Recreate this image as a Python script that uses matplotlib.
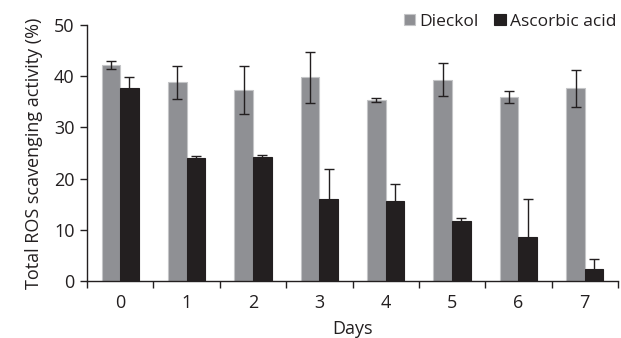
import matplotlib
matplotlib.use("Agg")
import matplotlib.pyplot as plt
import numpy as np

days = ["0", "1", "2", "3", "4", "5", "6", "7"]
dieckol = [42.2, 38.8, 37.3, 39.8, 35.4, 39.3, 35.9, 37.6]
dieckol_err = [0.7, 3.2, 4.6, 5.0, 0.35, 3.2, 1.2, 3.7]
ascorbic = [37.6, 24.0, 24.3, 16.1, 15.7, 11.7, 8.5, 2.4]
ascorbic_err = [2.3, 0.5, 0.4, 5.8, 3.2, 0.6, 7.6, 1.9]

text_color = "#231f20"
plt.rcParams["font.family"] = ["Open Sans", "DejaVu Sans"]
plt.rcParams["font.size"] = 13
plt.rcParams["text.color"] = text_color

fig = plt.figure(figsize=(6.21, 3.38), dpi=100)
ax = fig.add_axes([87 / 621, 1 - 281 / 338, 531 / 621, 256 / 338])

x = np.arange(len(days))
w = 0.28
err_kw = dict(ecolor=text_color, elinewidth=1.0, capsize=3.5, capthick=1.0)
ax.bar(x - w / 2, dieckol, w, yerr=dieckol_err, color="#8f9094",
       edgecolor="#c4c5c7", linewidth=0.8, label="Dieckol", error_kw=err_kw)
ax.bar(x + w / 2, ascorbic, w, yerr=ascorbic_err, color="#231f20",
       edgecolor="#231f20", linewidth=0.8, label="Ascorbic acid", error_kw=err_kw)

ax.set_xlim(-0.5, len(days) - 0.5)
ax.set_ylim(0, 50)
ax.set_yticks(np.arange(0, 51, 10))

# Major ticks mark the boundaries between days; labels sit at the centers
ax.set_xticks(np.arange(-0.5, len(days), 1.0))
ax.set_xticklabels([])
ax.set_xticks(x, minor=True)
ax.set_xticklabels(days, minor=True)
ax.tick_params(axis="x", which="minor", length=0, pad=9, colors=text_color)
ax.tick_params(axis="x", which="major", length=5, direction="out", width=1, color=text_color)
ax.tick_params(axis="y", length=5, direction="out", width=1, colors=text_color, pad=4)

for s in ["top", "right"]:
    ax.spines[s].set_visible(False)
for s in ["left", "bottom"]:
    ax.spines[s].set_color(text_color)
    ax.spines[s].set_linewidth(1.0)

ax.set_xlabel("Days", color=text_color, labelpad=6)
ax.set_ylabel("Total ROS scavenging activity (%)", color=text_color, labelpad=8)

ax.legend(loc="lower right", bbox_to_anchor=(1.01, 0.955), ncol=2, frameon=False,
          fontsize=12.5, handlelength=0.65, handleheight=0.65, handletextpad=0.25,
          columnspacing=0.9, borderaxespad=0)

fig.savefig("out.png", dpi=100)
